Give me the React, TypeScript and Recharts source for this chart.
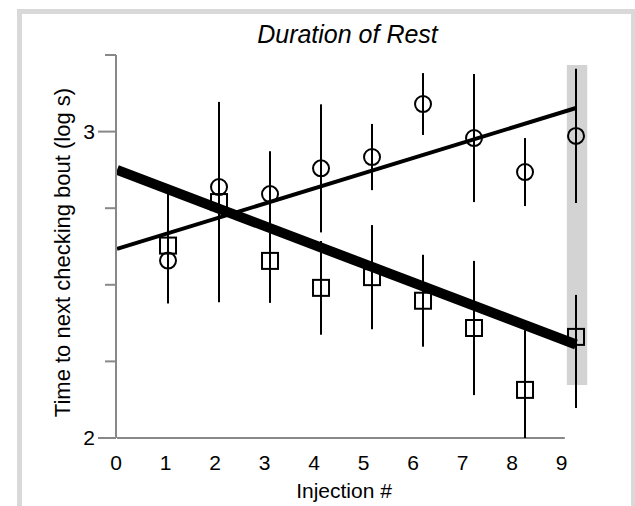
import {
  ComposedChart, Scatter, Line, XAxis, YAxis, ErrorBar, ReferenceArea, ReferenceLine,
} from 'recharts';

// ── Data ──────────────────────────────────────────────────────────────────
const INJECTIONS = [1, 2, 3, 4, 5, 6, 7, 8, 9];

// circles
const circleMean = [2.579, 2.819, 2.796, 2.88, 2.917, 3.09, 2.979, 2.868, 2.986];
const circleErr = [0.14, 0.277, 0.14, 0.209, 0.108, 0.101, 0.209, 0.111, 0.219];

// squares (asymmetric bars: low / high)
const squareMean = [2.628, 2.77, 2.578, 2.49, 2.525, 2.448, 2.359, 2.157, 2.33];
const squareErrLow = [0.173, 0.327, 0.137, 0.153, 0.17, 0.15, 0.219, 0.157, 0.232];
const squareErrHigh = [0.173, 0.327, 0.137, 0.153, 0.17, 0.15, 0.219, 0.195, 0.137];

// regression lines
const FIT_X = [0, 9];
const circleFit = [2.617, 3.077];
const squareFit = [2.875, 2.305];

// axis ticks
const Y_TICKS = [2, 2.25, 2.5, 2.75, 3, 3.25];
const X_TICKS = [0, 1, 2, 3, 4, 5, 6, 7, 8, 9];

// highlighted last injection
const BAND_X = [8.82, 9.22];
const BAND_Y = [2.173, 3.217];

const AXIS = '#888888';
const FONT = '"Liberation Sans", Arial, sans-serif';

const tickRows = X_TICKS.map(k => ({ k }));
const circleData = INJECTIONS.map((x, i) => ({ x, y: circleMean[i], err: circleErr[i] }));
const squareData = INJECTIONS.map((x, i) => ({
  x, y: squareMean[i], err: [squareErrLow[i], squareErrHigh[i]],
}));
const circleFitData = FIT_X.map((x, i) => ({ x, y: circleFit[i] }));
const squareFitData = FIT_X.map((x, i) => ({ x, y: squareFit[i] }));

export default function App() {
  return (
    <div style={{
      position: 'absolute', left: 0, top: 0, width: 635, height: 506,
      overflow: 'hidden', background: '#fff', fontFamily: FONT,
    }}>
      {/* outer frame */}
      <div style={{
        position: 'absolute', left: 17, top: 9, width: 619, height: 520,
        boxSizing: 'border-box', border: '5px solid #d9d9d9',
      }} />
      <div style={{
        position: 'absolute', left: 60, top: 22, width: 575, textAlign: 'center',
        fontSize: 25, fontStyle: 'italic', lineHeight: '25px', color: '#000',
      }}>
        Duration of Rest
      </div>

      <div style={{ position: 'absolute', left: 0, top: 0 }}>
        <ComposedChart
          width={635} height={506} data={tickRows}
          margin={{ top: 55, right: 47, bottom: 0, left: 8 }}
        >
          {/* visible tick labels (slightly tighter spacing than the data scale) */}
          <XAxis
            xAxisId="lab" dataKey="k" type="number" domain={[0, 9.535]} ticks={X_TICKS} interval={0}
            allowDataOverflow axisLine={false} tickLine={false} tickSize={10} tickMargin={7}
            height={68} tick={{ fill: '#000', fontSize: 21 }}
            label={{ value: 'Injection #', position: 'insideBottom', offset: 8, dx: -8, fill: '#000', fontSize: 21 }}
          />
          {/* data scale */}
          <XAxis
            xAxisId="d" dataKey="x" type="number" domain={[-0.02, 9.235]}
            allowDataOverflow hide height={0}
          />
          <YAxis
            dataKey="y" type="number" domain={[2, 3.25]} ticks={Y_TICKS} interval={0}
            allowDataOverflow width={108} tickSize={18} tickMargin={3} tickLine={false}
            axisLine={{ stroke: AXIS, strokeWidth: 2 }}
            tick={<YTick />}
            label={{
              value: 'Time to next checking bout (log s)', angle: -90, position: 'center',
              dy: 6, fill: '#000', fontSize: 22,
            }}
          />

          <ReferenceArea
            xAxisId="d" x1={BAND_X[0]} x2={BAND_X[1]} y1={BAND_Y[0]} y2={BAND_Y[1]}
            fill="#d3d3d3" fillOpacity={1} stroke="none" ifOverflow="visible"
          />
          <ReferenceLine
            xAxisId="d" segment={[{ x: 0, y: 2 }, { x: 8.78, y: 2 }]}
            stroke={AXIS} strokeWidth={2} ifOverflow="visible"
          />

          <Scatter xAxisId="d" data={circleData} shape={renderCircle} isAnimationActive={false}>
            <ErrorBar dataKey="err" direction="y" width={0} stroke="#000" strokeWidth={2} />
          </Scatter>
          <Scatter xAxisId="d" data={squareData} shape={renderSquare} isAnimationActive={false}>
            <ErrorBar dataKey="err" direction="y" width={0} stroke="#000" strokeWidth={2} />
          </Scatter>

          <Line
            xAxisId="d" data={circleFitData} dataKey="y" stroke="#000" strokeWidth={4}
            dot={false} activeDot={false} isAnimationActive={false}
          />
          <Line
            xAxisId="d" data={squareFitData} dataKey="y" stroke="#000" strokeWidth={10}
            dot={false} activeDot={false} isAnimationActive={false}
          />
        </ComposedChart>
      </div>
    </div>
  );
}

// ── Helpers ──────────────────────────────────────────────────────────────────

// y ticks: long tick + label on whole numbers, short tick otherwise
function YTick(props: any) {
  const { x, y, payload } = props;
  const major = Number.isInteger(payload.value);
  return (
    <g>
      <line x1={x + (major ? 3 : 10)} x2={x + 21} y1={y} y2={y} stroke={AXIS} strokeWidth={2} />
      {major && (
        <text x={x} y={y} dy="0.355em" textAnchor="end" fill="#000" fontSize={21}>
          {payload.value}
        </text>
      )}
    </g>
  );
}

function renderCircle(props: any) {
  const { cx, cy } = props;
  return <circle cx={cx} cy={cy} r={8} fill="none" stroke="#000" strokeWidth={2} />;
}

function renderSquare(props: any) {
  const { cx, cy } = props;
  return <rect x={cx - 8} y={cy - 8} width={16} height={16} fill="none" stroke="#000" strokeWidth={2} />;
}
